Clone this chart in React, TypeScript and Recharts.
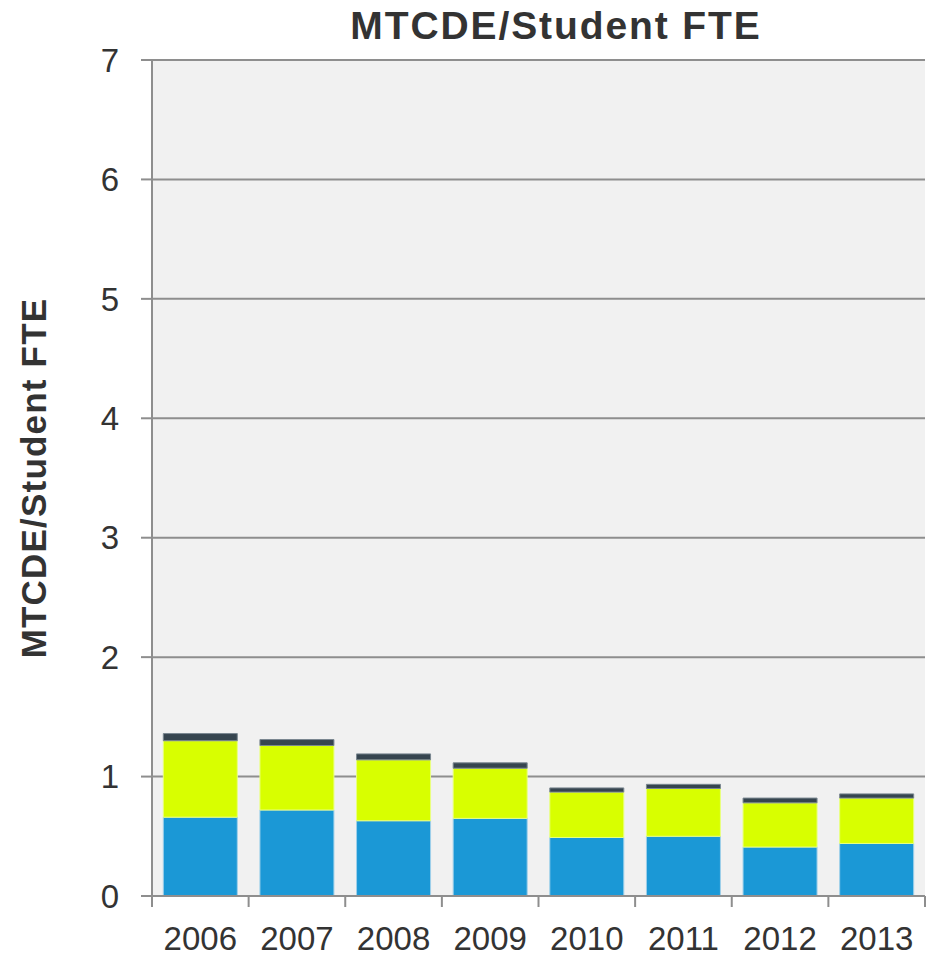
import { Bar, BarChart, CartesianGrid, Label, XAxis, YAxis } from "recharts";

// MTCDE per student FTE, stacked by component
const years = ["2006", "2007", "2008", "2009", "2010", "2011", "2012", "2013"];
const lower = [0.66, 0.72, 0.63, 0.65, 0.49, 0.5, 0.41, 0.44];
const middle = [0.64, 0.54, 0.51, 0.42, 0.38, 0.4, 0.37, 0.38];
const upper = [0.06, 0.05, 0.05, 0.045, 0.035, 0.035, 0.04, 0.035];
const yTicks = [0, 1, 2, 3, 4, 5, 6, 7];

const data = years.map((year, i) => ({
  year,
  lower: lower[i],
  middle: middle[i],
  upper: upper[i],
}));

const FONT = '"Liberation Sans", Arial, sans-serif';
const AXIS = "#8e8e8e";
const TEXT = "#333333";

// year label centred in its band, with tick marks on the band edges
function YearTick(props: any) {
  const { x, y, payload, index } = props;
  const half = payload?.offset ?? 0;
  const last = index === years.length - 1;
  return (
    <g>
      <line x1={x - half} x2={x - half} y1={y} y2={y + 11} stroke={AXIS} strokeWidth={2} />
      {last && <line x1={x + half} x2={x + half} y1={y} y2={y + 11} stroke={AXIS} strokeWidth={2} />}
      <text x={x} y={y + 31} dy="0.71em" textAnchor="middle" fontFamily={FONT} fontSize={33} fill={TEXT}>
        {payload.value}
      </text>
    </g>
  );
}

export default function App() {
  return (
    <div style={{ position: "absolute", left: 0, top: 0, width: 930, height: 958, background: "#fff" }}>
      <svg width={930} height={60} style={{ position: "absolute", left: 0, top: 0 }}>
        <text
          x={556}
          y={39}
          textAnchor="middle"
          fontFamily={FONT}
          fontWeight="bold"
          fontSize={39}
          letterSpacing={1.9}
          fill={TEXT}
        >
          MTCDE/Student FTE
        </text>
      </svg>
      <BarChart
        width={930}
        height={958}
        data={data}
        margin={{ top: 60, right: 5, left: 0, bottom: 0 }}
        barCategoryGap="11.7%"
      >
        <CartesianGrid vertical={false} fill="#f1f1f1" stroke={AXIS} strokeWidth={2} />
        <XAxis
          dataKey="year"
          height={62}
          axisLine={{ stroke: AXIS, strokeWidth: 2 }}
          tickLine={false}
          tickSize={0}
          tickMargin={0}
          interval={0}
          tick={<YearTick />}
        />
        <YAxis
          width={152}
          domain={[0, 7]}
          ticks={yTicks}
          interval={0}
          tickSize={11}
          tickMargin={22}
          axisLine={{ stroke: AXIS, strokeWidth: 2 }}
          tickLine={{ stroke: AXIS, strokeWidth: 2 }}
          tick={{ fontFamily: FONT, fontSize: 33, fill: TEXT }}
        >
          <Label
            content={() => (
              <text
                x={46}
                y={478}
                transform="rotate(-90 46 478)"
                textAnchor="middle"
                fontFamily={FONT}
                fontWeight="bold"
                fontSize={35}
                letterSpacing={1.2}
                fill={TEXT}
              >
                MTCDE/Student FTE
              </text>
            )}
          />
        </YAxis>
        <Bar dataKey="lower" stackId="a" fill="#1b98d6" stroke="#9fd0ea" strokeWidth={1} isAnimationActive={false} />
        <Bar dataKey="middle" stackId="a" fill="#d8ff00" stroke="#e9ff80" strokeWidth={1} isAnimationActive={false} />
        <Bar dataKey="upper" stackId="a" fill="#36454f" stroke="#7a8790" strokeWidth={1} isAnimationActive={false} />
      </BarChart>
    </div>
  );
}
